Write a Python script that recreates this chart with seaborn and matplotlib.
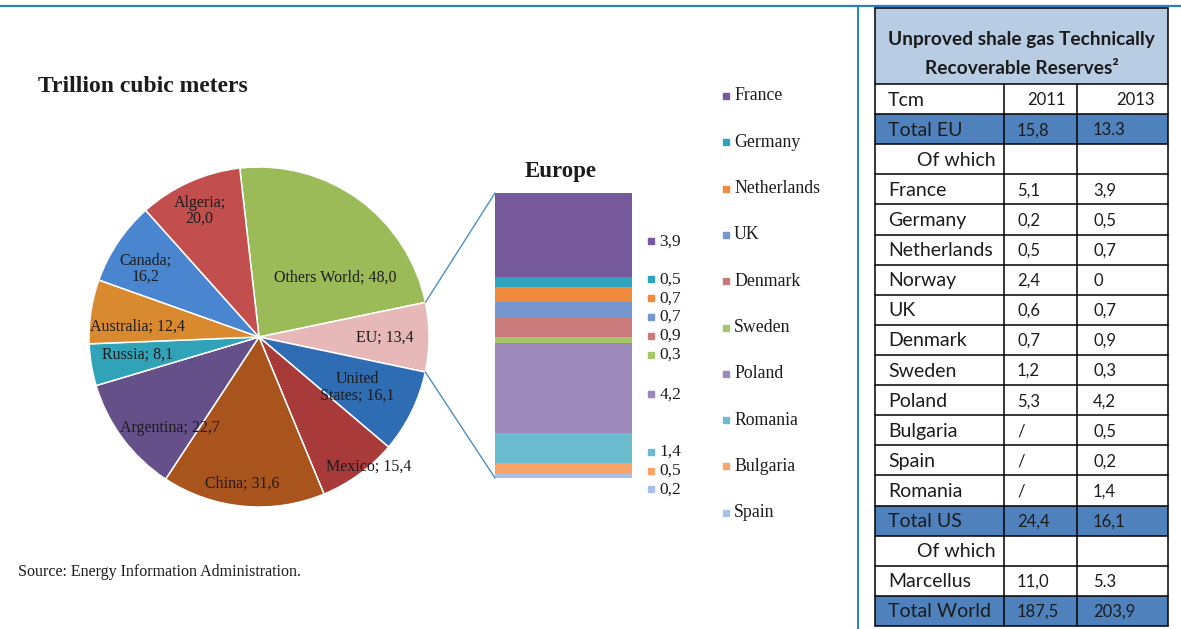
"""
Shale gas reserves: world pie with Europe breakdown bar, plus reserves table
"""
import numpy as np
import matplotlib
matplotlib.use("Agg")
import matplotlib.pyplot as plt
from matplotlib.patches import Rectangle, ConnectionPatch
import seaborn as sns

# ---- data -------------------------------------------------------------
world_names = ["Others World", "EU", "United\nStates", "Mexico", "China",
               "Argentina", "Russia", "Australia", "Canada", "Algeria"]
world_values = [48.0, 13.4, 16.1, 15.4, 31.6, 22.7, 8.1, 12.4, 16.2, 20.0]
world_colors = ["#9BBB59", "#E6B9B8", "#2E6DB4", "#A83A3A", "#A9531D",
                "#66508A", "#31A3B8", "#D98A2E", "#4A86CF", "#C24E4D"]

eu_names = ["France", "Germany", "Netherlands", "UK", "Denmark", "Sweden",
            "Poland", "Romania", "Bulgaria", "Spain"]
eu_values = [3.9, 0.5, 0.7, 0.7, 0.9, 0.3, 4.2, 1.4, 0.5, 0.2]
eu_colors = ["#76599A", "#2FA3BE", "#F08A3C", "#7596CE", "#C97B7B",
             "#A5C76A", "#9C89B9", "#6CBCCF", "#F9A46A", "#A9C1E6"]

table_rows = ["Tcm", "Total EU", "Of which", "France", "Germany", "Netherlands",
              "Norway", "UK", "Denmark", "Sweden", "Poland", "Bulgaria", "Spain",
              "Romania", "Total US", "Of which", "Marcellus", "Total World"]
table_2011 = ["2011", "15,8", "", "5,1", "0,2", "0,5", "2,4", "0,6", "0,7", "1,2",
              "5,3", "/", "/", "/", "24,4", "", "11,0", "187,5"]
table_2013 = ["2013", "13.3", "", "3,9", "0,5", "0,7", "0", "0,7", "0,9", "0,3",
              "4,2", "0,5", "0,2", "1,4", "16,1", "", "5.3", "203,9"]

# ---- style ------------------------------------------------------------
sns.set_theme(style="white")
plt.rcParams['font.family'] = ['Liberation Serif', 'DejaVu Serif']
TXT = "#1c1c1c"
SERIF = ['Liberation Serif', 'DejaVu Serif']
SANS = ['Lato', 'DejaVu Sans']

W, H = 1181, 629
fig = plt.figure(figsize=(W / 100, H / 100), dpi=100)
fig.patch.set_facecolor("white")


def px_axes(x0, y0, x1, y1):
    """axes placed with pixel box (top-left origin)"""
    return fig.add_axes([x0 / W, 1 - y1 / H, (x1 - x0) / W, (y1 - y0) / H])


# overlay in pixel coordinates for frame lines and the table
bg = fig.add_axes([0, 0, 1, 1], zorder=0)
bg.set_xlim(0, W)
bg.set_ylim(H, 0)
bg.axis("off")

bg.plot([0, W], [6, 6], color="#2A7FC4", lw=1.6, solid_capstyle="butt")
bg.plot([858, 858], [6, H], color="#2A7FC4", lw=1.4, solid_capstyle="butt")

# ---- pie --------------------------------------------------------------
cx, cy, R = 259, 337, 170
axp = px_axes(cx - R, cy - R, cx + R, cy + R)
start = 96.5
wedges, _ = axp.pie(world_values, colors=world_colors, startangle=start,
                    counterclock=False, radius=1.0,
                    wedgeprops=dict(edgecolor="white", linewidth=1.1))
axp.set_xlim(-1, 1)
axp.set_ylim(-1, 1)
axp.set_aspect("equal")
axp.axis("off")

label_r = [0.57, 0.74, 0.65, 1.0, 0.87, 0.75, 0.72, 0.72, 0.78, 0.82]
label_shift = [-16, 0, -1, 4, -1, 9, -1, 4, 3, 1]
for w, name, val, r, sh in zip(wedges, world_names, world_values, label_r, label_shift):
    mid = np.deg2rad((w.theta1 + w.theta2) / 2 + sh)
    txt = f"{name}; {val:.1f}".replace(".", ",")
    if name == "Algeria" or name == "Canada":
        txt = f"{name};\n{val:.1f}".replace(".", ",")
    axp.text(r * np.cos(mid), r * np.sin(mid), txt, ha="center", va="center",
             fontsize=11.5, color=TXT, family=SERIF, linespacing=1.0)

bg.text(38, 87, "Trillion cubic meters", fontsize=17, fontweight="bold",
        color=TXT, family=SERIF, va="center", ha="left")

# ---- Europe stacked bar (cumulative bars drawn largest first) ---------
axb = px_axes(495, 193, 632, 478)
tops = [sum(eu_values[i:]) for i in range(len(eu_values))]
for h, c in zip(tops, eu_colors):
    sns.barplot(x=["Europe"], y=[h], color=c, saturation=1, width=1.0,
                edgecolor="none", ax=axb)
total_eu = sum(eu_values)
axb.set_xlim(-0.5, 0.5)
axb.set_ylim(0, total_eu)
axb.axis("off")

bg.text(561, 171, "Europe", fontsize=16.5, fontweight="bold", color=TXT,
        family=SERIF, ha="center", va="center")

# value labels next to the bar, spread apart so they don't collide
centers = [tops[i] - eu_values[i] / 2 for i in range(len(eu_values))]
pos = list(centers)
gap = 0.88
for _ in range(300):
    for i in range(1, len(pos)):
        d = pos[i - 1] - pos[i]
        if d < gap:
            pos[i - 1] += (gap - d) / 2
            pos[i] -= (gap - d) / 2
pos = [p - 0.3 for p in pos]
tr = axb.get_yaxis_transform()
for p, v, c in zip(pos, eu_values, eu_colors):
    axb.plot([1.139], [p], marker="s", ms=5, color=c, transform=tr,
             clip_on=False, linestyle="none")
    axb.text(1.2, p, f"{v:.1f}".replace(".", ","), transform=tr, fontsize=12.5,
             color=TXT, family=SERIF, va="center", ha="left", clip_on=False)

# connector lines from the EU slice to the bar
eu_w = wedges[1]
for ang, corner in [(eu_w.theta1, (0, 0)), (eu_w.theta2, (0, 1))]:
    a = np.deg2rad(ang)
    con = ConnectionPatch(xyA=(np.cos(a), np.sin(a)), coordsA=axp.transData,
                          xyB=corner, coordsB=axb.transAxes,
                          color="#4F8FBF", lw=1.0)
    fig.add_artist(con)

# ---- legend -----------------------------------------------------------
for i, (n, c) in enumerate(zip(eu_names, eu_colors)):
    y = 96 + i * 46.3
    bg.plot([726], [y], marker="s", ms=5, color=c, linestyle="none")
    bg.text(734, y, n, fontsize=12.8, color=TXT, family=SERIF,
            va="center", ha="left")

bg.text(18, 572, "Source: Energy Information Administration.", fontsize=11.5,
        color=TXT, family=SERIF, va="center", ha="left")

# ---- table ------------------------------------------------------------
cols = [875, 1004, 1077, 1168]
top, head_bot, bot = 8, 84, 626
row_h = (bot - head_bot) / len(table_rows)

bg.add_patch(Rectangle((cols[0], top), cols[3] - cols[0], head_bot - top,
                       facecolor="#B8CCE4", edgecolor="none"))
bg.text((cols[0] + cols[3]) / 2, 40, "Unproved shale gas Technically",
        fontsize=13.8, fontweight="bold", color=TXT, family=SANS,
        ha="center", va="center")
bg.text((cols[0] + cols[3]) / 2, 68, "Recoverable Reserves²",
        fontsize=13.8, fontweight="bold", color=TXT, family=SANS,
        ha="center", va="center")

for i, (n, a, b) in enumerate(zip(table_rows, table_2011, table_2013)):
    y0 = head_bot + i * row_h
    ym = y0 + row_h / 2
    if n.startswith("Total"):
        bg.add_patch(Rectangle((cols[0], y0), cols[3] - cols[0], row_h,
                               facecolor="#4F81BD", edgecolor="none"))
    xn = 917 if n == "Of which" else 888
    bg.text(xn, ym + 1, n, fontsize=14, color=TXT, family=SANS,
            ha="left", va="center")
    if i == 0:
        bg.text(1066, ym + 1, a, fontsize=12, color=TXT, family=SANS,
                ha="right", va="center")
        bg.text(1155, ym + 1, b, fontsize=12, color=TXT, family=SANS,
                ha="right", va="center")
    else:
        bg.text(1017, ym + 1, a, fontsize=12, color=TXT, family=SANS,
                ha="left", va="center")
        bg.text(1093, ym + 1, b, fontsize=12, color=TXT, family=SANS,
                ha="left", va="center")

# grid lines
for k in range(len(table_rows) + 1):
    y = head_bot + k * row_h
    bg.plot([cols[0], cols[3]], [y, y], color="black", lw=1.1)
bg.plot([cols[0], cols[3]], [top, top], color="black", lw=1.1)
bg.plot([cols[0], cols[0]], [top, bot], color="black", lw=1.1)
bg.plot([cols[3], cols[3]], [top, bot], color="black", lw=1.1)
for x in cols[1:3]:
    bg.plot([x, x], [head_bot, bot], color="black", lw=1.1)

fig.savefig("out.png", dpi=100, facecolor="white")
